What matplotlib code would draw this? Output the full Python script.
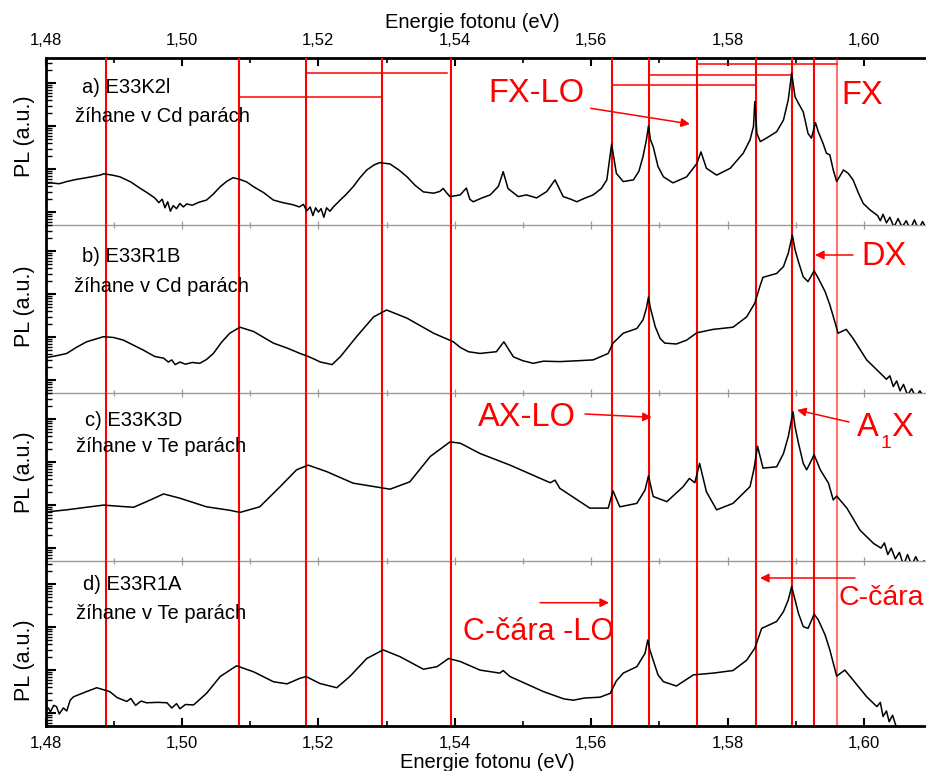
import numpy as np
import matplotlib
matplotlib.use("Agg")
import matplotlib.pyplot as plt
from matplotlib.patches import FancyArrowPatch
from matplotlib.ticker import FixedLocator, FuncFormatter, LogLocator, NullFormatter

plt.rcParams["font.family"] = ["Liberation Sans", "DejaVu Sans"]

# energy ticks (eV)
major_ticks = [1.48, 1.50, 1.52, 1.54, 1.56, 1.58, 1.60]
minor_ticks = [1.49, 1.51, 1.53, 1.55, 1.57, 1.59]

# energies (eV) of the red marker lines
line_energies = [1.4888, 1.5084, 1.5182, 1.5293, 1.5394, 1.5630,
                 1.5685, 1.5755, 1.5841, 1.5894, 1.5927, 1.5961]

# LO-phonon brackets in panel a: (start eV, end eV, log10 PL level)
brackets = [(1.5084, 1.5293, 2.67), (1.5182, 1.5388, 3.24),
            (1.5630, 1.5841, 2.95), (1.5685, 1.5894, 3.18),
            (1.5755, 1.5961, 3.44)]

sample_names = ["a) E33K2l", "b) E33R1B", "c) E33K3D", "d) E33R1A"]
annealing = ["žíhane v Cd parách", "žíhane v Cd parách",
             "žíhane v Te parách", "žíhane v Te parách"]

# spectra: (energy eV, log10 PL a.u.)
spec_a = [
    (1.4800, 0.66), (1.4807, 0.68), (1.4820, 0.66), (1.4831, 0.71), (1.4845, 0.76),
    (1.4860, 0.80), (1.4880, 0.86), (1.4885, 0.89), (1.4898, 0.86), (1.4909, 0.82),
    (1.4925, 0.70), (1.4938, 0.56), (1.4950, 0.44), (1.4960, 0.33), (1.4966, 0.22),
    (1.4971, 0.30), (1.4975, 0.10), (1.4979, 0.24), (1.4983, 0.02), (1.4987, 0.15),
    (1.4992, 0.08), (1.4997, 0.20), (1.5002, 0.12), (1.5007, 0.19), (1.5015, 0.16),
    (1.5025, 0.23), (1.5036, 0.28), (1.5046, 0.42), (1.5056, 0.59), (1.5066, 0.72),
    (1.5075, 0.80), (1.5085, 0.76), (1.5095, 0.70), (1.5105, 0.59), (1.5120, 0.45),
    (1.5134, 0.28), (1.5148, 0.22), (1.5163, 0.17), (1.5172, 0.12), (1.5178, 0.18),
    (1.5183, 0.03), (1.5188, 0.12), (1.5192, -0.08), (1.5196, 0.10), (1.5200, 0.00),
    (1.5204, 0.08), (1.5208, -0.12), (1.5212, 0.10), (1.5217, 0.02), (1.5222, 0.12),
    (1.5232, 0.28), (1.5240, 0.40), (1.5251, 0.59), (1.5261, 0.80), (1.5271, 0.98),
    (1.5282, 1.10), (1.5290, 1.15), (1.5305, 1.12), (1.5318, 0.98), (1.5330, 0.82),
    (1.5342, 0.62), (1.5354, 0.47), (1.5369, 0.44), (1.5378, 0.48), (1.5383, 0.55),
    (1.5388, 0.45), (1.5393, 0.36), (1.5408, 0.40), (1.5417, 0.56), (1.5422, 0.30),
    (1.5427, 0.24), (1.5440, 0.33), (1.5452, 0.40), (1.5464, 0.60), (1.5471, 0.94),
    (1.5478, 0.55), (1.5493, 0.36), (1.5505, 0.40), (1.5520, 0.33), (1.5535, 0.48),
    (1.5547, 0.75), (1.5559, 0.36), (1.5570, 0.30), (1.5579, 0.24), (1.5590, 0.32),
    (1.5603, 0.40), (1.5615, 0.55), (1.5623, 0.75), (1.5630, 1.58), (1.5637, 0.90),
    (1.5647, 0.71), (1.5662, 0.75), (1.5670, 0.95), (1.5676, 1.29), (1.5681, 1.68),
    (1.5684, 2.00), (1.5687, 1.68), (1.5691, 1.52), (1.5698, 1.06), (1.5706, 0.82),
    (1.5720, 0.68), (1.5740, 0.82), (1.5755, 1.13), (1.5761, 1.40), (1.5769, 1.02),
    (1.5784, 0.86), (1.5804, 1.02), (1.5823, 1.37), (1.5833, 1.68), (1.5838, 1.99),
    (1.5840, 2.57), (1.5843, 1.83), (1.5848, 1.64), (1.5857, 1.72), (1.5872, 1.87),
    (1.5882, 2.14), (1.5889, 2.61), (1.5894, 3.23), (1.5899, 2.68), (1.5904, 2.53),
    (1.5911, 2.33), (1.5918, 1.83), (1.5923, 1.72), (1.5929, 2.08), (1.5933, 1.87),
    (1.5940, 1.60), (1.5945, 1.37), (1.5950, 1.33), (1.5955, 0.98), (1.5960, 0.71),
    (1.5970, 0.98), (1.5977, 0.90), (1.5984, 0.75), (1.5992, 0.44), (1.5999, 0.20),
    (1.6009, 0.05), (1.6020, -0.08), (1.6024, -0.20), (1.6028, -0.05), (1.6033, -0.25),
    (1.6038, -0.12), (1.6044, -0.35), (1.6050, -0.15), (1.6056, -0.35), (1.6062, -0.20),
    (1.6068, -0.40), (1.6074, -0.18), (1.6080, -0.40), (1.6086, -0.22), (1.6092, -0.40),
]

spec_b = [
    (1.4800, 0.52), (1.4807, 0.54), (1.4820, 0.58), (1.4831, 0.62), (1.4845, 0.76),
    (1.4860, 0.89), (1.4885, 1.01), (1.4900, 0.99), (1.4914, 0.93), (1.4943, 0.70),
    (1.4960, 0.55), (1.4973, 0.51), (1.4980, 0.42), (1.4985, 0.47), (1.4990, 0.36),
    (1.4997, 0.42), (1.5005, 0.37), (1.5015, 0.41), (1.5026, 0.39), (1.5036, 0.48),
    (1.5046, 0.62), (1.5058, 0.88), (1.5070, 1.09), (1.5085, 1.23), (1.5105, 1.13),
    (1.5134, 0.86), (1.5155, 0.74), (1.5173, 0.62), (1.5185, 0.55), (1.5195, 0.48),
    (1.5203, 0.42), (1.5212, 0.39), (1.5220, 0.36), (1.5232, 0.54), (1.5256, 1.01),
    (1.5281, 1.47), (1.5300, 1.63), (1.5330, 1.44), (1.5369, 1.09), (1.5398, 0.89),
    (1.5408, 0.76), (1.5420, 0.66), (1.5437, 0.62), (1.5461, 0.66), (1.5472, 0.89),
    (1.5486, 0.54), (1.5500, 0.45), (1.5515, 0.39), (1.5530, 0.44), (1.5554, 0.43),
    (1.5580, 0.45), (1.5603, 0.47), (1.5625, 0.62), (1.5632, 0.86), (1.5647, 1.09),
    (1.5667, 1.20), (1.5676, 1.40), (1.5681, 1.67), (1.5684, 1.93), (1.5687, 1.67),
    (1.5694, 1.24), (1.5701, 0.97), (1.5708, 0.86), (1.5725, 0.84), (1.5740, 0.93),
    (1.5755, 1.10), (1.5779, 1.18), (1.5808, 1.23), (1.5828, 1.47), (1.5840, 1.79),
    (1.5848, 2.21), (1.5852, 2.39), (1.5872, 2.48), (1.5882, 2.64), (1.5889, 2.95),
    (1.5895, 3.37), (1.5899, 3.03), (1.5904, 2.75), (1.5911, 2.40), (1.5918, 2.29),
    (1.5927, 2.54), (1.5933, 2.37), (1.5943, 2.06), (1.5950, 1.75), (1.5958, 1.32),
    (1.5962, 1.09), (1.5974, 1.18), (1.5984, 0.97), (1.6004, 0.47), (1.6024, 0.16),
    (1.6033, 0.02), (1.6038, 0.10), (1.6043, -0.15), (1.6048, -0.02), (1.6053, -0.25),
    (1.6058, -0.10), (1.6064, -0.35), (1.6070, -0.20), (1.6076, -0.40), (1.6082, -0.25),
    (1.6088, -0.40),
]

spec_c = [
    (1.4800, 0.83), (1.4807, 0.85), (1.4831, 0.89), (1.4860, 0.95), (1.4885, 1.00),
    (1.4910, 0.97), (1.4929, 0.95), (1.4948, 1.08), (1.4973, 1.26), (1.4997, 1.16),
    (1.5036, 0.96), (1.5070, 0.88), (1.5085, 0.83), (1.5114, 0.96), (1.5144, 1.43),
    (1.5168, 1.82), (1.5185, 1.93), (1.5212, 1.78), (1.5251, 1.51), (1.5305, 1.37),
    (1.5334, 1.54), (1.5364, 2.13), (1.5393, 2.47), (1.5408, 2.44), (1.5437, 2.20),
    (1.5481, 1.93), (1.5540, 1.52), (1.5547, 1.58), (1.5554, 1.39), (1.5598, 0.93),
    (1.5625, 0.93), (1.5632, 1.33), (1.5642, 0.96), (1.5667, 1.04), (1.5679, 1.35),
    (1.5684, 1.68), (1.5691, 1.20), (1.5711, 1.08), (1.5735, 1.43), (1.5744, 1.62),
    (1.5752, 1.52), (1.5759, 1.97), (1.5769, 1.31), (1.5784, 0.89), (1.5808, 1.04),
    (1.5833, 1.43), (1.5839, 1.86), (1.5844, 2.37), (1.5852, 1.86), (1.5872, 1.89),
    (1.5882, 2.20), (1.5889, 2.59), (1.5896, 3.17), (1.5899, 2.82), (1.5904, 2.44),
    (1.5911, 1.97), (1.5916, 1.82), (1.5927, 2.17), (1.5936, 1.82), (1.5948, 1.51),
    (1.5955, 1.12), (1.5960, 1.21), (1.5975, 0.93), (1.5994, 0.42), (1.6014, 0.11),
    (1.6025, 0.00), (1.6030, 0.12), (1.6035, -0.15), (1.6040, 0.00), (1.6046, -0.25),
    (1.6052, -0.10), (1.6058, -0.40), (1.6064, -0.15), (1.6070, -0.40), (1.6076, -0.20),
    (1.6082, -0.40), (1.6088, -0.30),
]

spec_d = [
    (1.4800, 0.05), (1.4804, 0.12), (1.4807, 0.03), (1.4812, 0.18), (1.4816, 0.15),
    (1.4820, -0.02), (1.4826, 0.12), (1.4831, 0.05), (1.4836, 0.30), (1.4841, 0.38),
    (1.4860, 0.50), (1.4875, 0.59), (1.4894, 0.50), (1.4905, 0.36), (1.4919, 0.27),
    (1.4925, 0.34), (1.4932, 0.18), (1.4940, 0.28), (1.4948, 0.24), (1.4965, 0.25),
    (1.4978, 0.24), (1.4985, 0.12), (1.4992, 0.22), (1.4997, 0.10), (1.5005, 0.20),
    (1.5017, 0.19), (1.5036, 0.46), (1.5056, 0.85), (1.5080, 1.10), (1.5105, 0.96),
    (1.5134, 0.73), (1.5154, 0.68), (1.5173, 0.81), (1.5182, 0.85), (1.5202, 0.69),
    (1.5227, 0.59), (1.5246, 0.85), (1.5271, 1.27), (1.5295, 1.47), (1.5320, 1.31),
    (1.5354, 1.02), (1.5374, 1.08), (1.5391, 1.27), (1.5408, 1.20), (1.5437, 1.00),
    (1.5466, 0.93), (1.5471, 0.99), (1.5481, 0.85), (1.5530, 0.50), (1.5560, 0.33),
    (1.5574, 0.30), (1.5590, 0.35), (1.5613, 0.37), (1.5628, 0.46), (1.5637, 0.75),
    (1.5647, 0.93), (1.5667, 1.08), (1.5679, 1.39), (1.5683, 1.70), (1.5686, 1.47),
    (1.5691, 1.23), (1.5698, 0.89), (1.5706, 0.73), (1.5725, 0.63), (1.5750, 0.89),
    (1.5779, 0.93), (1.5808, 0.99), (1.5828, 1.23), (1.5840, 1.51), (1.5850, 1.97),
    (1.5872, 2.13), (1.5882, 2.36), (1.5889, 2.63), (1.5894, 2.94), (1.5899, 2.63),
    (1.5904, 2.32), (1.5911, 2.01), (1.5918, 1.97), (1.5927, 2.30), (1.5933, 2.17),
    (1.5943, 1.82), (1.5950, 1.47), (1.5960, 0.86), (1.5972, 1.00), (1.5984, 0.77),
    (1.6004, 0.38), (1.6019, 0.15), (1.6024, 0.25), (1.6028, -0.08), (1.6033, 0.05),
    (1.6037, -0.20), (1.6042, -0.05), (1.6047, -0.30), (1.6052, -0.40), (1.6090, -0.40),
]

spectra = [spec_a, spec_b, spec_c, spec_d]

W, H = 926, 771
fig = plt.figure(figsize=(W / 100, H / 100), dpi=100)

# panel extents in pixels (top, bottom)
panel_px = [(58, 225), (225, 393), (393, 561), (561, 726)]
left_px = 45.6
dec_px = 43.0
label_pos = [(0.041, 0.826, 0.033, 0.647), (0.041, 0.811, 0.032, 0.633),
             (0.045, 0.835, 0.035, 0.679), (0.042, 0.855, 0.035, 0.679)]
ylabel_y = [0.533, 0.519, 0.53, 0.40]

comma_fmt = FuncFormatter(lambda v, pos: f"{v:.2f}".replace(".", ","))
red = "#ff0000"
grey = "#9a9a9a"


def set_energy_ticks(axis):
    axis.set_major_locator(FixedLocator(major_ticks))
    axis.set_minor_locator(FixedLocator(minor_ticks))


axes = []
for i, (top, bot) in enumerate(panel_px):
    ax = fig.add_axes([left_px / W, 1 - bot / H, 1 - left_px / W, (bot - top) / H])
    ax.patch.set_visible(False)
    e, pl = np.array(spectra[i]).T
    ax.plot(e, 10 ** pl, color="black", lw=1.1, zorder=3)
    for k, le in enumerate(line_energies):
        ax.axvline(le, color=red, lw=1.5, alpha=0.55 if k == len(line_energies) - 1 else 1.0, zorder=2)

    ax.set_xlim(1.48, 1.6091)
    ax.set_yscale("log")
    ax.set_ylim(10 ** -0.3, 10 ** ((bot - top) / dec_px - 0.3))
    ax.yaxis.set_major_locator(LogLocator(base=10, numticks=10))
    ax.yaxis.set_minor_locator(LogLocator(base=10, subs=np.arange(2, 10), numticks=10))
    ax.yaxis.set_minor_formatter(NullFormatter())
    ax.tick_params(axis="y", which="major", direction="in", length=7, width=1.5,
                   left=True, right=False, labelleft=False)
    ax.tick_params(axis="y", which="minor", direction="in", length=4, width=1.0,
                   left=True, right=False, labelleft=False)
    set_energy_ticks(ax.xaxis)
    ax.spines["right"].set_visible(False)
    ax.spines["left"].set_linewidth(2.0)
    ax.spines["top"].set_visible(False)

    if i < 3:
        ax.spines["bottom"].set_color(grey)
        ax.spines["bottom"].set_linewidth(1.0)
        ax.tick_params(axis="x", which="major", direction="inout", length=6, width=0.9,
                       color=grey, labelbottom=False)
        ax.tick_params(axis="x", which="minor", direction="inout", length=4, width=0.9,
                       color=grey, labelbottom=False)
    else:
        ax.spines["bottom"].set_linewidth(2.0)
        ax.xaxis.set_major_formatter(comma_fmt)
        ax.tick_params(axis="x", which="major", direction="in", length=6, width=1.5,
                       labelsize=12, pad=7)
        ax.tick_params(axis="x", which="minor", direction="in", length=3.5, width=1.2)

    ax.set_ylabel("PL (a.u.)", fontsize=15.5)
    ax.yaxis.set_label_coords(-0.012, ylabel_y[i])

    x1, y1, x2, y2 = label_pos[i]
    ax.text(x1, y1, sample_names[i], transform=ax.transAxes, fontsize=14.5, va="center")
    ax.text(x2, y2, annealing[i], transform=ax.transAxes, fontsize=14.5, va="center")
    axes.append(ax)

# top energy axis on the first panel
ax_a = axes[0]
sec = ax_a.secondary_xaxis("top")
set_energy_ticks(sec.xaxis)
sec.xaxis.set_major_formatter(comma_fmt)
sec.spines["top"].set_linewidth(2.0)
sec.tick_params(axis="x", which="major", direction="in", length=6, width=1.5,
                labelsize=12, pad=7.5)
sec.tick_params(axis="x", which="minor", direction="in", length=3.5, width=1.2)

for x0, x1, lvl in brackets:
    ax_a.plot([x0, x1], [10 ** lvl, 10 ** lvl], color=red, lw=1.1, zorder=2)

fig.text(0.5103, 1 - 22 / H, "Energie fotonu (eV)", fontsize=14.5, ha="center", va="center")
fig.text(0.5265, 1 - 763 / H, "Energie fotonu (eV)", fontsize=14.5, ha="center", va="center")


def px(x, y):
    return (x / W, 1 - y / H)


def red_text(x, y, s, size=23.5):
    fig.text(*px(x, y), s, color=red, fontsize=size, ha="left", va="center")


def red_arrow(start, end):
    fig.add_artist(FancyArrowPatch(px(*start), px(*end), transform=fig.transFigure,
                                   arrowstyle="-|>", mutation_scale=13, color=red,
                                   lw=1.1, shrinkA=0, shrinkB=0))


red_text(488, 93, "FX-LO")
red_arrow((590.7, 108.3), (690, 124))
red_text(841.7, 95, "FX")
red_text(861.7, 256.7, "DX")
red_arrow((853, 255), (815, 255))
red_text(478, 417, "AX-LO")
red_arrow((585, 414), (651.7, 417.3))
red_text(857, 428, "A")
fig.text(*px(885.5, 444), "1", color=red, fontsize=14, ha="center", va="center")
red_text(891, 428, "X")
red_arrow((849, 422), (797, 410))
red_text(839, 598, "C-čára", size=20.5)
red_arrow((855, 578), (760, 578))
red_text(463, 632, "C-čára -LO", size=22)
red_arrow((540, 602.7), (609, 602.7))

fig.savefig("out.png", dpi=100, facecolor="white")
